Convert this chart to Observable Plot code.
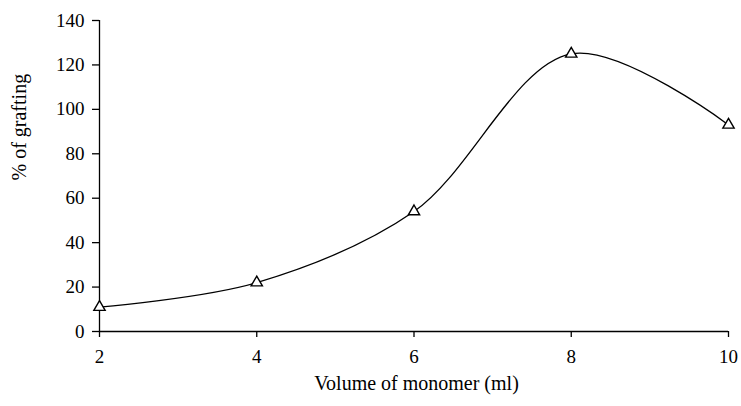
<!DOCTYPE html>
<html>
<head>
<meta charset="utf-8">
<script src="https://cdn.jsdelivr.net/npm/d3@7"></script>
<script src="https://cdn.jsdelivr.net/npm/@observablehq/plot@0.6"></script>
<style>
  body { margin: 0; background: #fff; }
  #chart svg g[aria-label$="tick label"] { font-size: 19px !important; }
</style>
</head>
<body>
<div id="chart"></div>
<script>
// Grafting yield against monomer volume
const volume = [2, 4, 6, 8, 10];
const grafting = [11, 22, 54, 125, 93];
const xTicks = [2, 4, 6, 8, 10];
const yTicks = [0, 20, 40, 60, 80, 100, 120, 140];
const xLabel = "Volume of monomer (ml)";
const yLabel = "% of grafting";

const rows = volume.map((v, i) => ({volume: v, grafting: grafting[i]}));

const chart = Plot.plot({
  width: 741,
  height: 406,
  marginLeft: 99,
  marginRight: 13,
  marginTop: 20,
  marginBottom: 75,
  style: {fontFamily: "'Liberation Serif', 'DejaVu Serif', serif", fontSize: "19px", color: "#000", background: "#fff"},
  x: {domain: [2, 10]},
  y: {domain: [0, 140]},
  marks: [
    Plot.axisX({ticks: xTicks, tickSize: 6, tickPadding: 12, strokeWidth: 1.3, fontSize: 19, label: null}),
    Plot.axisY({ticks: yTicks, tickSize: 7, tickPadding: 8, strokeWidth: 1.3, fontSize: 19, label: null}),
    Plot.ruleX([2], {y1: 0, y2: 140, stroke: "#000", strokeWidth: 1.3}),
    Plot.ruleY([0], {x1: 2, x2: 10, stroke: "#000", strokeWidth: 1.3}),
    Plot.line(rows, {x: "volume", y: "grafting", curve: "catmull-rom", stroke: "#000", strokeWidth: 1.3}),
    Plot.dot(rows, {x: "volume", y: "grafting", symbol: "triangle", r: 4.2, fill: "#fff", stroke: "#000", strokeWidth: 1.4}),
    Plot.text([xLabel], {text: d => d, frameAnchor: "bottom", dx: 2.5, dy: 52, lineAnchor: "middle", fontSize: 20}),
    Plot.text([yLabel], {text: d => d, frameAnchor: "left", rotate: -90, dx: -80, dy: 4.5, lineAnchor: "middle", fontSize: 20})
  ]
});

document.getElementById("chart").appendChild(chart);
</script>
</body>
</html>
